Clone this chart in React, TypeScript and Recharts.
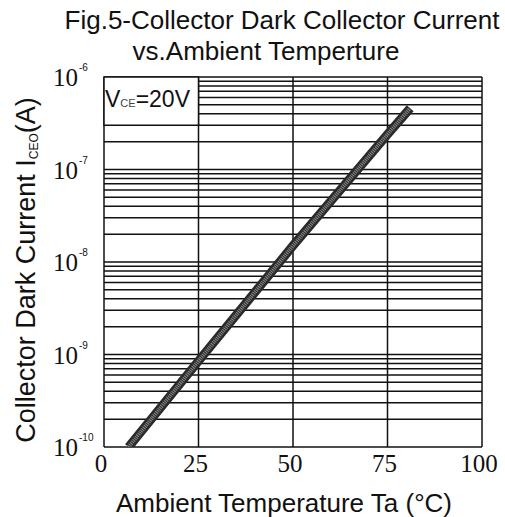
import React from "react"
import { LineChart, Line, XAxis, YAxis, CartesianGrid, ReferenceArea, Label } from "recharts"

// values (Ta in °C, ICEO in A)
const TEMPS = [6.5, 25, 50, 75, 81]
const DARK_CURRENT = [1.0e-10, 8.5e-10, 1.5e-8, 2.4e-7, 4.6e-7]

const X_TICKS = [0, 25, 50, 75, 100]
const DECADE_EXPONENTS = [-10, -9, -8, -7]
const MINOR_STEPS = [1, 2, 3, 4, 5, 6, 7, 8, 9]
const Y_TICKS = [...DECADE_EXPONENTS.flatMap((e) => MINOR_STEPS.map((m) => m * Math.pow(10, e))), 1e-6]

const DATA = TEMPS.map((t, i) => ({ t, i: DARK_CURRENT[i] }))

const SANS = "'Liberation Sans', Arial, sans-serif"
const SERIF = "'Liberation Serif', 'Times New Roman', serif"

const isDecade = (v: number) => {
  const l = Math.log10(v)
  return Math.abs(l - Math.round(l)) < 1e-6
}

const XTick = ({ x, y, payload }: any) => (
  <text x={x - 3} y={y + 25} textAnchor="middle" fontFamily={SERIF} fontSize={25} fill="#111">
    {payload.value}
  </text>
)

const YTick = ({ x, y, payload }: any) => {
  if (!isDecade(payload.value)) return null
  const exp = Math.round(Math.log10(payload.value))
  return (
    <g>
      <text x={x - 26} y={y + 9} textAnchor="end" fontFamily={SERIF} fontSize={25} fill="#111">
        10
      </text>
      <text x={x - 25} y={y - 6} textAnchor="start" fontFamily={SANS} fontSize={10} fill="#111">
        {exp}
      </text>
    </g>
  )
}

export default function App() {
  return (
    <div style={{ position: "absolute", left: 0, top: 0, width: 505, height: 517, background: "#fff" }}>
      <svg width={505} height={70} style={{ position: "absolute", left: 0, top: 0 }}>
        <text x={282} y={29} textAnchor="middle" fontFamily={SANS} fontSize={26} fill="#111">
          Fig.5-Collector Dark Collector Current
        </text>
        <text x={266} y={60} textAnchor="middle" fontFamily={SANS} fontSize={26} fill="#111">
          vs.Ambient Temperture
        </text>
      </svg>
      <div style={{ position: "absolute", left: 0, top: 0 }}>
        <LineChart width={505} height={517} data={DATA} margin={{ top: 77, right: 23, left: 0, bottom: 0 }}>
          <CartesianGrid stroke="#111" strokeWidth={1.5} />
          <XAxis
            dataKey="t"
            type="number"
            domain={[0, 100]}
            ticks={X_TICKS}
            interval={0}
            axisLine={false}
            tickLine={false}
            tickSize={0}
            tickMargin={0}
            height={70}
            tick={<XTick />}
          >
            <Label
              content={({ viewBox }: any) => (
                <text x={viewBox.x + viewBox.width / 2 - 9} y={512} textAnchor="middle" fontFamily={SANS} fontSize={26} fill="#111">
                  Ambient Temperature Ta (°C)
                </text>
              )}
            />
          </XAxis>
          <YAxis
            type="number"
            scale="log"
            domain={[1e-10, 1e-6]}
            ticks={Y_TICKS}
            interval={0}
            allowDataOverflow
            axisLine={false}
            tickLine={false}
            tickSize={0}
            tickMargin={0}
            width={104}
            tick={<YTick />}
          >
            <Label
              content={() => (
                <text x={35} y={270} transform="rotate(-90, 35, 270)" textAnchor="middle" fontFamily={SANS} fontSize={27} fill="#111">
                  Collector Dark Current I
                  <tspan fontSize={12} dy={3}>CEO</tspan>
                  <tspan dy={-3}>(A)</tspan>
                </text>
              )}
            />
          </YAxis>
          <ReferenceArea
            x1={0}
            x2={25}
            y1={3e-7}
            y2={1e-6}
            fill="#fff"
            fillOpacity={1}
            stroke="#111"
            strokeWidth={1.5}
            label={({ viewBox }: any) => (
              <text x={viewBox.x + 1} y={viewBox.y + 30} fontFamily={SANS} fontSize={23} fill="#111">
                V<tspan fontSize={11} fill="#444">CE</tspan>=20V
              </text>
            )}
          />
          <Line dataKey="i" stroke="#2a2a2a" strokeWidth={9} dot={false} isAnimationActive={false} />
          <Line dataKey="i" stroke="#8c8c8c" strokeWidth={4} strokeDasharray="1 1" dot={false} isAnimationActive={false} />
        </LineChart>
      </div>
    </div>
  )
}
